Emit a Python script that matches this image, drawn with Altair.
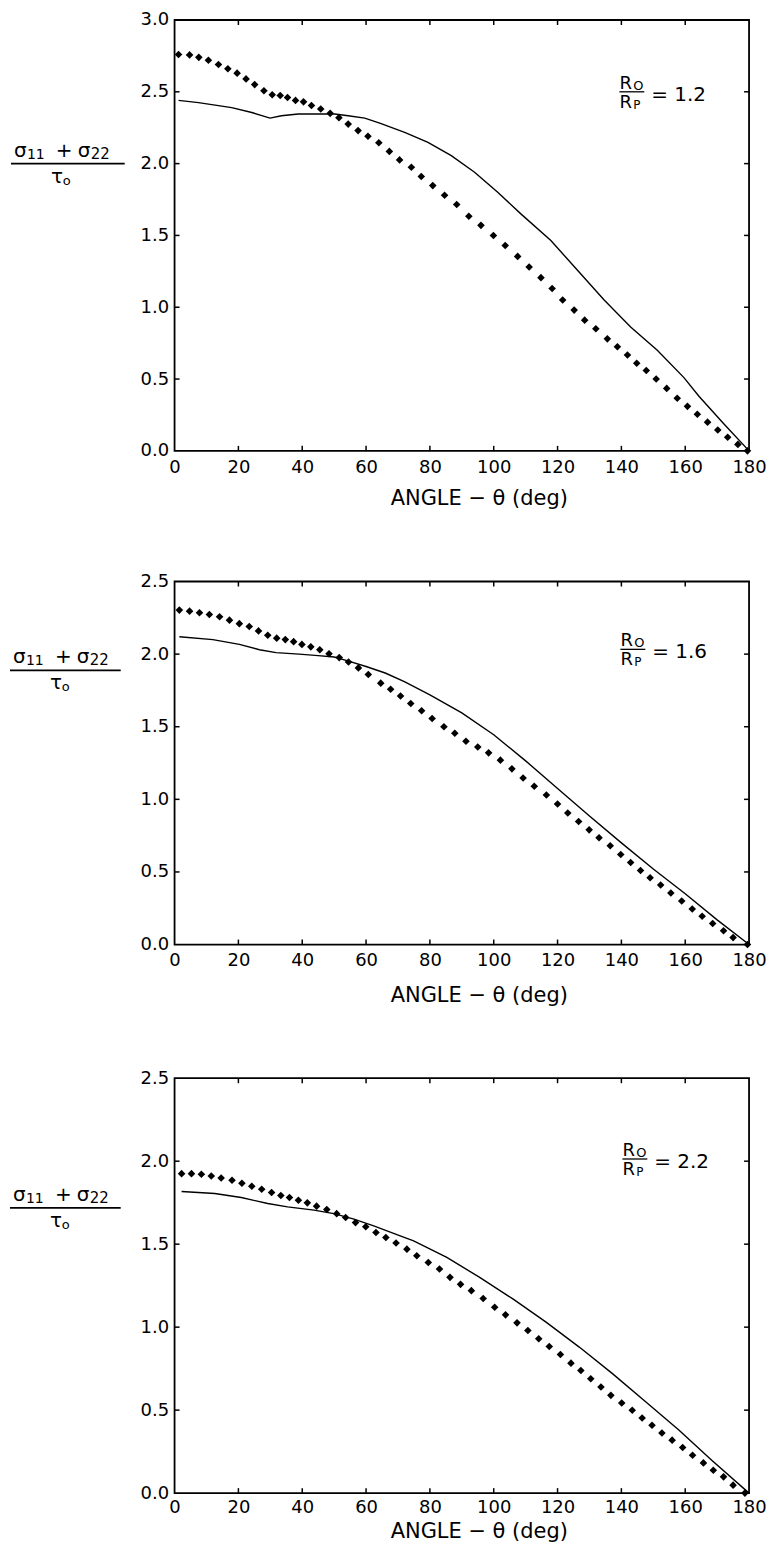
import altair as alt
import pandas as pd

FONT = "DejaVu Sans"

# ---------------- data ----------------
X_TICKS = [0, 20, 40, 60, 80, 100, 120, 140, 160, 180]
Y_TICKS_1 = [0.0, 0.5, 1.0, 1.5, 2.0, 2.5, 3.0]
Y_TICKS_2 = [0.0, 0.5, 1.0, 1.5, 2.0, 2.5]
RATIOS = ["1.2", "1.6", "2.2"]

# Panel 1  (R0/Rp = 1.2)
P1_SOLID_DEG = [1.25, 7.5, 17.9, 24.2, 29.9, 33.5, 38.75, 45, 50.2, 54.4, 59.6, 64.5, 72.1, 79.4,
                86.7, 94, 101.25, 108.5, 117.9, 126.25, 134.6, 142.9, 151.25, 159.6, 164.3, 172, 180]
P1_SOLID_VAL = [2.44, 2.425, 2.39, 2.356, 2.317, 2.333, 2.345, 2.345, 2.345, 2.333, 2.317, 2.28, 2.217, 2.148,
                2.056, 1.94, 1.80, 1.65, 1.465, 1.257, 1.05, 0.863, 0.70, 0.51, 0.38, 0.19, 0.0]
P1_DOT_DEG = [1.25, 4.7, 7.6, 10.6, 13.75, 16.7, 19.6, 22.4, 25.1, 28.0, 30.6, 33.1, 35.4, 37.9, 40.4,
              42.9, 45.8, 48.75, 51.5, 54.4, 57.5, 60.6, 64.0, 67.3, 70.5, 74.2, 77.3, 80.9, 84.6, 88.4,
              92.2, 96.0, 99.9, 103.6, 107.5, 111.1, 114.8, 118.3, 121.6, 125.2, 128.5, 132.0, 135.6,
              138.75, 141.9, 144.8, 147.8, 150.9, 154.2, 157.5, 160.7, 163.8, 167.0, 170.2, 173.3, 176.5, 179.5]
P1_DOT_VAL = [2.76, 2.757, 2.74, 2.72, 2.69, 2.66, 2.63, 2.59, 2.55, 2.507, 2.48, 2.474, 2.46, 2.44, 2.43,
              2.405, 2.38, 2.35, 2.32, 2.275, 2.23, 2.19, 2.145, 2.085, 2.026, 1.975, 1.91, 1.847, 1.78, 1.715,
              1.634, 1.57, 1.50, 1.43, 1.354, 1.28, 1.206, 1.13, 1.05, 0.98, 0.91, 0.85, 0.78,
              0.725, 0.667, 0.61, 0.56, 0.50, 0.435, 0.366, 0.31, 0.255, 0.20, 0.145, 0.095, 0.045, 0.0]

# Panel 2  (R0/Rp = 1.6)
P2_SOLID_DEG = [1.5, 12, 20.3, 26.6, 31.8, 39, 45, 50, 54, 60, 66, 72, 80, 90, 100, 110, 120, 130,
                140, 150, 160, 170, 180]
P2_SOLID_VAL = [2.12, 2.10, 2.067, 2.03, 2.01, 2.0, 1.99, 1.98, 1.955, 1.915, 1.87, 1.81, 1.72, 1.595,
                1.445, 1.265, 1.075, 0.885, 0.70, 0.52, 0.35, 0.17, 0.0]
P2_DOT_DEG = [1.5, 4.7, 7.8, 10.9, 14.1, 17.2, 20.3, 23.4, 26.3, 29.2, 32.0, 34.7, 37.3, 39.9, 42.7,
              45.5, 48.4, 51.6, 54.5, 57.6, 60.7, 64.6, 67.7, 70.8, 74.0, 77.4, 80.7, 84.4, 87.8, 91.3,
              95.0, 98.4, 102.1, 105.7, 109.2, 112.7, 116.5, 120.0, 123.2, 126.6, 129.9, 133.0, 136.5,
              139.8, 142.9, 146.0, 149.0, 152.3, 155.5, 158.9, 162.2, 165.3, 168.6, 172.0, 175.0, 179.5]
P2_DOT_VAL = [2.303, 2.296, 2.285, 2.273, 2.257, 2.234, 2.21, 2.19, 2.16, 2.13, 2.11, 2.10, 2.086, 2.067, 2.05,
              2.03, 2.003, 1.976, 1.946, 1.905, 1.86, 1.80, 1.758, 1.712, 1.66, 1.61, 1.557, 1.50, 1.455, 1.40,
              1.36, 1.32, 1.27, 1.21, 1.147, 1.09, 1.03, 0.968, 0.906, 0.847, 0.79, 0.735, 0.68,
              0.62, 0.565, 0.51, 0.46, 0.41, 0.355, 0.30, 0.245, 0.195, 0.145, 0.095, 0.048, 0.0]

# Panel 3  (R0/Rp = 2.2)
P3_SOLID_DEG = [2.2, 12.6, 20.9, 29.2, 35.4, 43.7, 49.9, 56.2, 62.4, 70.7, 74.9, 85.3, 95.6, 106,
                116.4, 126.8, 137.2, 147.6, 158, 168.3, 180]
P3_SOLID_VAL = [1.817, 1.805, 1.781, 1.745, 1.725, 1.705, 1.684, 1.651, 1.61, 1.55, 1.52, 1.42, 1.30, 1.17,
                1.03, 0.88, 0.72, 0.55, 0.38, 0.198, 0.0]
P3_DOT_DEG = [2.2, 5.3, 8.4, 11.5, 14.6, 18.0, 21.1, 24.2, 27.3, 30.4, 33.3, 36.0, 38.8, 41.6, 44.5,
              47.7, 50.8, 53.6, 56.7, 59.9, 63.1, 66.2, 69.4, 72.8, 75.9, 79.5, 83.0, 86.3, 89.6, 93.0,
              96.7, 100.3, 103.7, 107.3, 110.7, 114.1, 117.4, 120.9, 124.2, 127.3, 130.4, 133.6, 136.7,
              140.1, 143.4, 146.5, 149.6, 152.7, 155.9, 159.2, 162.3, 165.7, 168.8, 172.0, 175.0, 178.7]
P3_DOT_VAL = [1.925, 1.925, 1.921, 1.911, 1.899, 1.885, 1.867, 1.849, 1.831, 1.811, 1.793, 1.781, 1.765, 1.749, 1.729,
              1.709, 1.684, 1.661, 1.63, 1.605, 1.57, 1.54, 1.507, 1.47, 1.43, 1.39, 1.35, 1.30, 1.258, 1.22,
              1.173, 1.12, 1.074, 1.026, 0.98, 0.93, 0.883, 0.835, 0.783, 0.739, 0.689, 0.639, 0.589,
              0.543, 0.499, 0.453, 0.409, 0.362, 0.319, 0.275, 0.228, 0.182, 0.138, 0.098, 0.048, 0.0]

W = 576
TICK = 5


def text_runs(runs, x0, y0):
    """runs: (text, fontSize, dx, dy) placed left-aligned at (x0+dx, y0+dy)."""
    base = alt.Chart(pd.DataFrame({"k": [0]}))
    out = []
    for t, fs, dx, dy in runs:
        out.append(base.mark_text(text=t, font=FONT, fontSize=fs, align="left",
                                  baseline="alphabetic", color="black").encode(
            x=alt.value(x0 + dx), y=alt.value(y0 + dy)))
    return out


def panel(h, ymax, yticks, sdeg, sval, ddeg, dval, ratio, ratio_xy, frac, label_pad, title_pad):
    sx = alt.Scale(domain=[0, 180], nice=False, zero=False)
    sy = alt.Scale(domain=[0, ymax], nice=False, zero=False)
    xaxis = alt.Axis(values=X_TICKS, format="d", title="ANGLE − θ (deg)", ticks=False, tickSize=0,
                     domain=False, grid=False, labelFont=FONT, labelFontSize=18, labelColor="black",
                     labelPadding=label_pad, labelFlush=False, titleFont=FONT, titleFontSize=21,
                     titleFontWeight="normal", titleColor="black", titlePadding=title_pad, titleX=305,
                     titleAlign="center")
    yaxis = alt.Axis(values=yticks, format=".1f", title=None, ticks=False, tickSize=0, domain=False,
                     grid=False, labelFont=FONT, labelFontSize=18, labelColor="black", labelPadding=6,
                     labelFlush=False)
    solid = alt.Chart(pd.DataFrame({"deg": sdeg, "val": sval})).mark_line(
        color="black", strokeWidth=1.4).encode(
        x=alt.X("deg:Q", scale=sx, axis=xaxis),
        y=alt.Y("val:Q", scale=sy, axis=yaxis))
    dots = alt.Chart(pd.DataFrame({"deg": ddeg, "val": dval})).mark_point(
        shape="diamond", filled=True, color="black", size=58, opacity=1).encode(
        x=alt.X("deg:Q"), y=alt.Y("val:Q"))

    xt = pd.DataFrame({"deg": X_TICKS[1:-1]})
    yt = pd.DataFrame({"val": yticks[1:-1]})
    tick_style = dict(color="black", strokeWidth=1.5)
    bt = alt.Chart(xt).mark_rule(**tick_style).encode(x="deg:Q", y=alt.value(h), y2=alt.value(h - TICK))
    tt = alt.Chart(xt).mark_rule(**tick_style).encode(x="deg:Q", y=alt.value(0), y2=alt.value(TICK))
    lt = alt.Chart(yt).mark_rule(**tick_style).encode(y="val:Q", x=alt.value(0), x2=alt.value(TICK))
    rt = alt.Chart(yt).mark_rule(**tick_style).encode(y="val:Q", x=alt.value(W - TICK), x2=alt.value(W))

    base = alt.Chart(pd.DataFrame({"k": [0]}))
    # y-axis label drawn as a fraction  (sigma11 + sigma22) / tau_o
    fl, fr, fy = frac
    bar = base.mark_rule(color="black", strokeWidth=1.7).encode(
        x=alt.value(fl), x2=alt.value(fr), y=alt.value(fy))
    frac_text = text_runs([("σ", 20, 3, -7), ("11", 14, 16, -5), ("+", 20, 45, -7),
                           ("σ", 20, 67, -7), ("22", 15, 80, -5),
                           ("τ", 20, 40, 19), ("o", 13, 52, 21)], fl, fy)

    # R0/Rp annotation
    rx, ry = ratio_xy
    rbar = base.mark_rule(color="black", strokeWidth=1.3).encode(
        x=alt.value(rx), x2=alt.value(rx + 25), y=alt.value(ry))
    ratio_text = text_runs([("R", 18, 0, -3), ("O", 13, 14, -2),
                            ("R", 18, 0, 16), ("P", 12, 14, 17),
                            ("= " + ratio, 20, 32, 9)], rx, ry)

    layers = [solid, dots, bt, tt, lt, rt, bar, rbar] + frac_text + ratio_text
    return alt.layer(*layers).properties(width=W, height=h)


p1 = panel(432, 3.0, Y_TICKS_1, P1_SOLID_DEG, P1_SOLID_VAL, P1_DOT_DEG, P1_DOT_VAL, RATIOS[0],
           (446, 72), (-164, -50, 144), 8, 11)
p2 = panel(364, 2.5, Y_TICKS_2, P2_SOLID_DEG, P2_SOLID_VAL, P2_DOT_DEG, P2_DOT_VAL, RATIOS[1],
           (447, 68), (-165, -54, 89), 7, 15)
p3 = panel(416, 2.5, Y_TICKS_2, P3_SOLID_DEG, P3_SOLID_VAL, P3_DOT_DEG, P3_DOT_VAL, RATIOS[2],
           (449, 81), (-165, -54, 130), 5, 5)

chart = alt.vconcat(p1, p2, p3, spacing=62).properties(
    padding={"left": 0, "top": 0, "right": 0, "bottom": 0},
    background="white",
).configure_view(stroke="black", strokeWidth=1.8)

chart.save("out.html", embed_options={"renderer": "svg", "actions": False})
